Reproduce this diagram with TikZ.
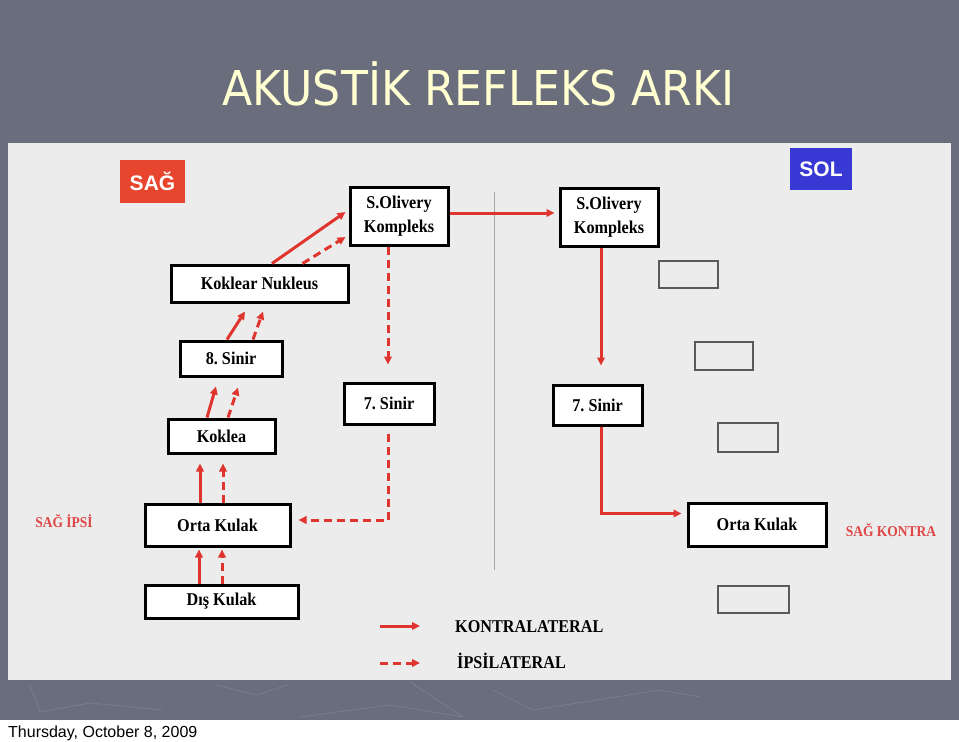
\documentclass[tikz,border=0pt]{standalone}
\usepackage{fontspec}
\setmainfont{Liberation Serif}[FakeStretch=0.9]
\newfontfamily\titlefont{DejaVu Sans}
\newfontfamily\arialfont{Liberation Sans}
\usetikzlibrary{arrows.meta,calc}
\frenchspacing
\definecolor{slide}{HTML}{6A6D7C}
\definecolor{slideline}{HTML}{7A7D8C}
\definecolor{titlecol}{HTML}{FFFFD2}
\definecolor{checker}{HTML}{ECECEC}
\definecolor{arrred}{HTML}{E0352E}
\definecolor{sagred}{HTML}{E8452E}
\definecolor{solblue}{HTML}{3838D4}
\definecolor{lblred}{HTML}{E04545}
\definecolor{emptybox}{HTML}{5A5A5A}
\tikzset{
  box/.style={draw=black, line width=3pt, fill=white, inner sep=0pt, align=center,
    font=\frenchspacing\bfseries\fontsize{18}{24}\selectfont},
  ebox/.style={draw=emptybox, line width=1.1pt, inner sep=0pt},
  solidarr/.style={draw=arrred, line width=3pt, -{Triangle[length=8pt,width=7.5pt]}},
  dasharr/.style={solidarr, dash pattern=on 8pt off 5pt},
  tag/.style={inner sep=0pt, text=white, font=\arialfont\bfseries\fontsize{21}{24}\selectfont},
  redlbl/.style={inner sep=0pt, text=lblred, font=\bfseries\fontsize{15}{18}\selectfont},
  legtxt/.style={inner sep=0pt, anchor=west, font=\bfseries\fontsize{18}{20}\selectfont},
  deco/.style={draw=slideline, line width=0.8pt}
}
\begin{document}
\begin{tikzpicture}[x=1pt,y=-1pt]
% slide background
\fill[slide] (0,0) rectangle (959,742);
\useasboundingbox (0,0) rectangle (959,742);
\fill[white] (0,720) rectangle (959,742);
% faint decoration lines in the lower band
\draw[deco] (30,685) -- (40,712) -- (90,703) -- (163,710);
\draw[deco] (217,685) -- (257,695) -- (287,685);
\draw[deco] (300,717) -- (390,705) -- (463,717) -- (410,682);
\draw[deco] (493,690) -- (533,710) -- (660,690) -- (700,697);
% title
\node[anchor=base, text=titlecol, inner sep=0pt, font=\titlefont\fontsize{48}{56}\selectfont] (title) at (478.5,105) {\scalebox{0.92}[1]{AKUSTİK REFLEKS ARKI}};
% picture area
\fill[checker] (8,143) rectangle (951,680);
% date
\node[anchor=base west, inner sep=0pt, font=\arialfont\fontsize{16}{18}\selectfont] (date) at (8,737) {Thursday, October 8, 2009};
% divider
\draw[gray!70, line width=0.8pt] (494,192) -- (494,570);
% tags
\node[tag, fill=sagred, minimum width=65pt, minimum height=43pt] (sag) at (152.5,181.5) {SAĞ};
\node[tag, fill=solblue, minimum width=62pt, minimum height=42pt] (sol) at (821,169) {SOL};
% main boxes
\node[box, minimum width=98pt, minimum height=58pt] (soL) at (399,216) {S.Olivery\\Kompleks};
\node[box, minimum width=98pt, minimum height=58pt] (soR) at (609,217) {S.Olivery\\Kompleks};
\node[box, minimum width=177pt, minimum height=37pt] (kn) at (259.5,283.5) {Koklear Nukleus};
\node[box, minimum width=102pt, minimum height=35pt] (s8) at (231,358.5) {8. Sinir};
\node[box, minimum width=107pt, minimum height=34pt] (kok) at (221.5,436) {Koklea};
\node[box, minimum width=145pt, minimum height=42pt] (okL) at (217.5,525) {Orta Kulak};
\node[box, minimum width=153pt, minimum height=33pt] (dk) at (221.5,601.5) {Dış Kulak};
\node[box, minimum width=90pt, minimum height=41pt] (s7L) at (389,403.5) {7. Sinir};
\node[box, minimum width=89pt, minimum height=40pt] (s7R) at (597.5,405) {7. Sinir};
\node[box, minimum width=138pt, minimum height=43pt] (okR) at (757,524.5) {Orta Kulak};
% empty boxes
\node[ebox, minimum width=59pt, minimum height=27pt] (e1) at (688.5,274.5) {};
\node[ebox, minimum width=58pt, minimum height=28pt] (e2) at (724,356) {};
\node[ebox, minimum width=60pt, minimum height=29pt] (e3) at (748,437.5) {};
\node[ebox, minimum width=71pt, minimum height=27pt] (e4) at (753.5,599.5) {};
% side labels
\node[redlbl] (ipsi) at (64,521) {SAĞ İPSİ};
\node[redlbl] (kontra) at (891,530) {SAĞ KONTRA};
% arrows left side
\draw[solidarr] ($(kn.north)+(12.5,0)$) -- ($(soL.west)+(-3,-4)$);
\draw[dasharr] ($(kn.north)+(43,0)$) -- ($(soL.west)+(-3,21)$);
\draw[solidarr] ($(s8.north)+(-4,0)$) -- ($(kn.south)+(-14.5,8)$);
\draw[dasharr] ($(s8.north)+(22,0)$) -- ($(kn.south)+(3.5,8)$);
\draw[solidarr] ($(kok.north)+(-14.5,0)$) -- ($(s8.south)+(-15,9)$);
\draw[dasharr] ($(kok.north)+(6.5,0)$) -- ($(s8.south)+(7,10)$);
\draw[solidarr] ($(okL.north)+(-17.5,0)$) -- ($(kok.south)+(-21.5,9)$);
\draw[dasharr] ($(okL.north)+(5.5,0)$) -- ($(kok.south)+(1.5,9)$);
\draw[solidarr] ($(dk.north)+(-22.5,0)$) -- ($(okL.south)+(-18.5,2)$);
\draw[dasharr] ($(dk.north)+(0.5,0)$) -- ($(okL.south)+(4.5,2)$);
\draw[dasharr] ($(soL.south)+(-11,0)$) -- ($(s7L.north)+(-1,-17)$);
\draw[dasharr] ($(s7L.south)+(-1,8)$) |- ($(okL.east)+(7,-5)$);
% arrows to right side
\draw[solidarr] ($(soL.east)+(0,-3)$) -- ($(soR.west)+(-4,-4)$);
\draw[solidarr] ($(soR.south)+(-8,0)$) -- ($(s7R.north)+(3.5,-18)$);
\draw[solidarr] ($(s7R.south)+(3.5,0)$) |- ($(okR.west)+(-5,-11)$);
% legend
\coordinate (la1) at (380,626);
\coordinate (la2) at (420,626);
\coordinate (lb1) at (380,663);
\coordinate (lb2) at (420,663);
\draw[solidarr] (la1) -- (la2);
\draw[dasharr] (lb1) -- (lb2);
\node[legtxt] (kontral) at (455,627) {KONTRALATERAL};
\node[legtxt] (ipsil) at (457,661) {İPSİLATERAL};
\end{tikzpicture}
\end{document}
